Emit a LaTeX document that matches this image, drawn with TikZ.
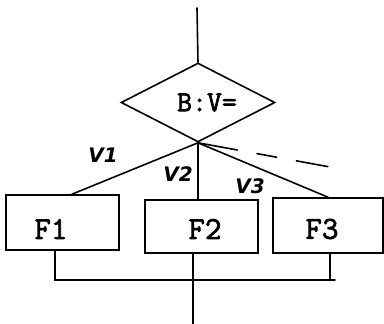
\documentclass[tikz,border=0pt]{standalone}
\usepackage{fontspec}
\newfontfamily\handfont{DejaVu Sans}
\newfontfamily\boxfont[FakeBold=2.2]{Latin Modern Mono}
\usetikzlibrary{shapes.geometric}
\tikzset{
  ln/.style={line width=1.6pt, line cap=round},
  fbox/.style={draw, line width=1.6pt, rectangle, inner sep=0pt},
  ftext/.style={font=\boxfont\fontsize{32}{32}\selectfont, inner sep=0pt},
  dia/.style={draw, line width=1.6pt, diamond, aspect=2, inner sep=0pt, minimum width=154pt, minimum height=79pt, font=\boxfont\fontsize{29}{29}\selectfont},
  hand/.style={font=\handfont\fontsize{20}{20}\selectfont\bfseries\itshape, inner sep=0pt}
}
\begin{document}
\begin{tikzpicture}[x=1pt,y=-1pt]
\useasboundingbox (0,0) rectangle (384,324);
\node[dia] (D) at (198,102.5) {\hspace*{18pt}B:V=};
\coordinate (top) at (197,8);
\draw[ln] (top) -- (D.north);
\node[fbox, minimum width=113pt, minimum height=55pt] (F1) at (62.5,222.5) {};
\node[fbox, minimum width=113pt, minimum height=53pt] (F2) at (201.5,226.5) {};
\node[fbox, minimum width=110pt, minimum height=55pt] (F3) at (328,225.5) {};
\node[ftext] (t1) at (51,229) {F1};
\node[ftext] (t2) at (205,229) {F2};
\node[ftext] (t3) at (322,229) {F3};
\draw[ln] (D.south) -- ([xshift=9.5pt]F1.north);
\draw[ln] (D.south) -- (D.south |- F2.north);
\draw[ln] (D.south) -- (F3.north);
\coordinate (dash) at (330,167);
\draw[ln, dash pattern=on 40pt off 20pt on 20pt off 20pt on 32pt] (D.south) -- (dash);
\node[hand] (v1) at (103,155) {V1};
\node[hand] (v2) at (178,174) {V2};
\node[hand] (v3) at (250,186) {V3};
\coordinate (r) at (335,280);
\draw[ln] ([xshift=-7.5pt]F1.south) |- (r);
\draw[ln] ([xshift=2pt]F3.south) -- ([xshift=2pt]F3.south |- r);
\coordinate (out) at (193,324);
\draw[ln] (out |- F2.south) -- (out);
\end{tikzpicture}
\end{document}
